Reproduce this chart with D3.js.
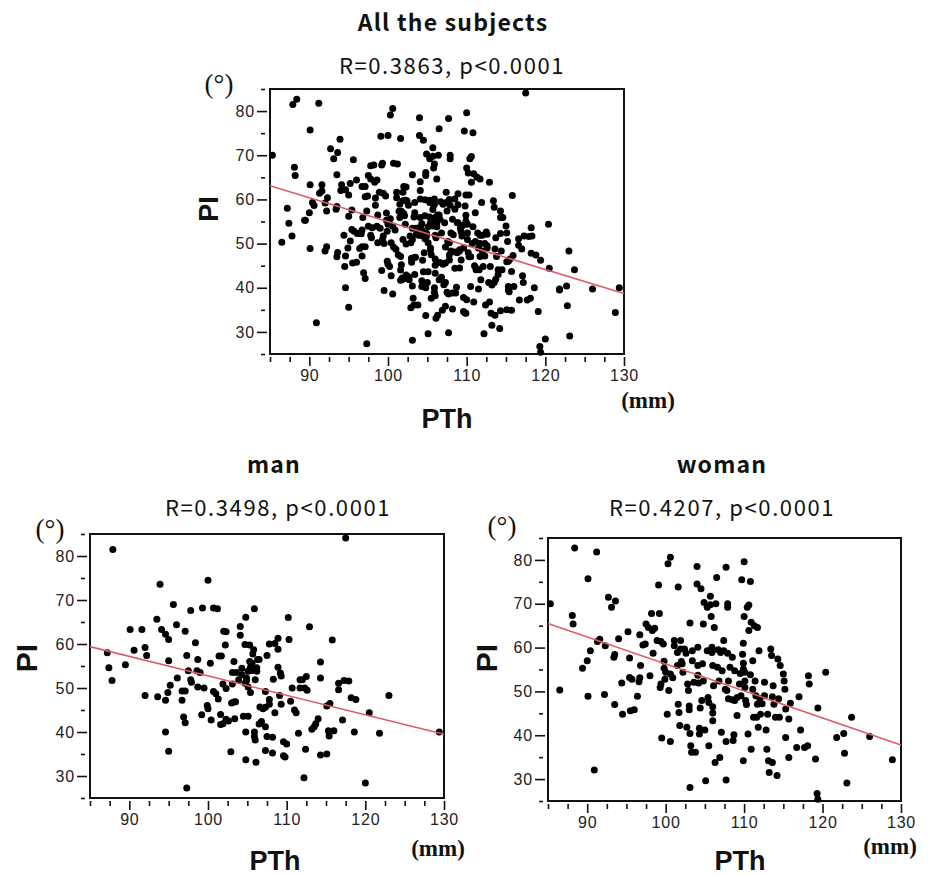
<!DOCTYPE html>
<html><head><meta charset="utf-8">
<script src="https://cdn.jsdelivr.net/npm/d3@7"></script>
<style>body{margin:0;background:#fff}</style>
</head><body>
<svg id="c" width="930" height="877"></svg>
<script>
// ---------- data ----------
const panelTitles = ["All the subjects", "man", "woman"];
const statLabels = ["R=0.3863, p<0.0001", "R=0.3498, p<0.0001", "R=0.4207, p<0.0001"];
const xAxisTitle = "PTh";
const yAxisTitle = "PI";
const xUnit = "(mm)";
const yUnit = "(°)";
const xTickValues = [90, 100, 110, 120, 130];
const xMinorTicks = [85, 87.5, 92.5, 95, 97.5, 102.5, 105, 107.5, 112.5, 115, 117.5, 122.5, 125, 127.5];
const yTickValues = [30, 40, 50, 60, 70, 80];
const yMinorTicks = [25, 35, 45, 55, 65, 75, 85];
const xDomain = [85, 130];
const yDomain = [25, 85];

// [PTh (mm), PI (deg)]
const manPoints = [
[87.9,81.5],[87.2,58.0],[87.4,54.6],[87.8,51.7],[89.5,55.3],[90.6,58.6],[90.1,63.3],[91.6,63.3],[92.0,59.2],[92.2,57.4],
[92.0,48.3],[93.5,65.6],[93.9,73.6],[94.1,63.3],[94.6,62.2],[95.0,61.0],[93.6,48.0],[94.6,47.2],[94.9,49.0],[95.2,50.6],
[95.0,56.2],[94.6,40.0],[95.0,35.6],[95.6,69.0],[96.0,64.4],[96.1,52.3],[97.1,62.9],[96.7,49.3],[97.1,49.3],[96.7,47.2],
[96.9,43.4],[97.1,42.1],[97.3,27.3],[97.8,67.6],[97.3,57.4],[97.5,53.9],[97.8,51.9],[97.9,51.3],[98.4,60.3],[98.7,56.5],
[98.6,53.9],[99.0,53.5],[98.7,50.2],[99.2,43.9],[99.3,68.2],[99.5,50.0],[100.0,74.5],[100.3,55.6],[99.9,46.0],[100.0,45.3],
[100.7,68.2],[101.2,68.0],[100.4,42.7],[100.7,49.2],[101.0,48.7],[101.3,47.5],[101.4,57.3],[101.7,57.3],[101.6,44.0],[101.6,41.7],
[101.9,41.9],[101.9,50.9],[102.0,62.9],[102.3,62.8],[102.2,59.8],[102.3,49.9],[102.3,42.9],[102.6,42.5],[102.9,35.5],[103.0,46.6],
[103.3,46.8],[103.1,50.9],[103.3,56.0],[103.5,46.9],[103.4,43.0],[103.1,53.5],[103.6,53.5],[103.9,51.9],[104.1,64.0],[104.1,62.0],
[104.3,54.5],[104.3,53.0],[104.5,43.6],[104.8,66.1],[104.7,59.9],[104.9,52.3],[104.9,51.7],[104.7,51.1],[104.8,40.0],[104.8,33.7],
[105.1,43.6],[105.1,50.2],[105.3,59.8],[105.3,56.0],[105.1,53.8],[105.4,49.0],[105.4,54.7],[105.7,57.7],[105.6,55.6],[105.7,54.0],
[105.9,68.0],[105.8,58.7],[105.9,40.0],[105.9,39.0],[106.0,38.2],[106.1,33.1],[106.0,51.9],[106.2,53.8],[106.3,56.5],[106.2,54.6],
[106.5,56.5],[106.5,41.8],[106.8,42.4],[106.6,45.7],[107.0,45.3],[107.3,45.6],[107.3,49.2],[107.3,41.2],[107.3,35.8],[107.5,39.0],
[107.5,57.4],[107.8,60.0],[107.8,47.4],[107.8,46.3],[108.2,38.8],[108.2,35.2],[108.3,52.0],[108.5,44.4],[108.5,60.1],[108.9,61.3],
[108.9,58.8],[108.9,54.7],[109.2,53.4],[109.1,48.3],[109.3,52.7],[109.3,46.3],[109.6,37.8],[109.6,34.6],[109.8,34.3],[110.0,37.3],
[110.2,66.0],[110.3,61.0],[110.5,47.0],[110.7,50.0],[111.0,45.0],[111.2,44.4],[111.5,39.7],[111.7,50.0],[111.7,51.9],[112.0,51.9],
[112.3,50.0],[112.4,36.1],[112.2,29.6],[112.5,52.6],[112.6,49.5],[112.9,63.9],[113.2,40.6],[113.5,41.2],[113.7,41.9],[114.0,43.0],
[114.3,55.9],[114.3,52.3],[114.3,34.8],[115.1,35.0],[115.3,40.3],[115.4,39.1],[115.1,45.9],[115.5,46.5],[115.8,60.9],[116.0,40.3],
[116.6,49.6],[116.6,51.1],[117.1,42.7],[117.5,84.1],[117.3,51.7],[117.9,51.6],[118.2,47.8],[118.8,47.4],[118.6,40.0],[120.0,28.4],
[120.5,44.4],[121.8,39.7],[123.0,48.3],[129.4,40.0]
];

const womanPoints = [
[85.3,70.0],[86.5,50.3],[88.1,67.3],[88.2,65.4],[88.4,82.7],[89.4,55.3],[90.0,57.0],[90.1,75.7],[90.1,48.9],[90.4,59.3],
[90.9,32.1],[91.2,81.8],[91.3,61.4],[91.6,61.9],[92.2,49.3],[92.3,60.4],[92.7,71.5],[93.1,69.2],[93.6,70.6],[93.4,57.8],
[93.5,58.4],[93.5,47.0],[94.0,62.0],[94.4,51.9],[94.5,44.8],[95.2,63.6],[95.4,57.6],[95.4,53.2],[95.5,45.6],[95.7,52.8],
[96.0,45.8],[96.4,48.9],[96.6,52.2],[96.7,53.1],[96.8,55.9],[96.7,62.9],[97.1,60.6],[97.4,60.8],[97.5,65.4],[97.8,64.6],
[98.0,53.6],[98.2,67.8],[98.3,63.9],[98.4,58.7],[98.6,64.4],[99.1,74.3],[98.9,61.6],[99.2,67.8],[99.4,61.4],[99.3,50.9],
[99.4,51.7],[99.5,39.4],[99.7,60.8],[99.8,56.9],[99.8,55.3],[100.0,54.4],[99.9,52.8],[100.2,44.8],[100.3,79.1],[100.6,80.6],
[100.4,50.2],[100.6,38.6],[100.6,54.0],[100.9,53.1],[101.1,61.6],[101.1,60.4],[101.5,58.9],[101.6,73.8],[101.5,55.9],[101.6,47.1],
[101.7,45.2],[101.8,42.2],[101.9,61.6],[101.9,59.7],[102.0,56.8],[102.1,56.3],[102.2,54.4],[102.4,59.7],[102.6,58.7],[102.7,41.8],
[102.8,51.7],[102.9,50.2],[103.0,46.7],[103.0,45.8],[103.1,65.6],[103.1,28.1],[103.1,40.4],[103.2,37.6],[103.3,36.1],[103.4,59.3],
[103.4,57.0],[103.6,52.1],[103.8,36.1],[104.0,78.5],[104.0,74.5],[104.1,60.1],[104.1,55.9],[104.1,53.7],[104.2,51.9],[104.3,41.6],
[104.3,40.3],[104.5,73.4],[104.7,56.3],[104.8,65.4],[104.8,52.4],[104.4,46.2],[104.6,47.9],[104.9,70.3],[105.0,41.2],[105.1,29.6],
[105.3,69.2],[105.3,59.3],[105.4,48.6],[105.5,37.6],[105.5,47.5],[105.7,71.7],[105.7,69.8],[105.8,67.1],[105.9,60.1],[105.9,58.9],
[106.0,55.9],[106.0,46.5],[106.0,45.1],[106.0,43.3],[106.1,51.3],[106.2,64.6],[106.3,33.8],[106.4,70.0],[106.5,76.0],[106.6,55.5],
[106.7,59.5],[106.8,52.4],[106.9,34.9],[107.0,58.9],[107.1,40.7],[107.2,54.7],[107.4,59.3],[107.4,61.6],[107.6,50.5],[107.7,78.3],
[107.7,29.8],[107.7,38.6],[107.9,58.7],[107.9,70.0],[107.9,69.2],[107.8,50.2],[108.0,52.4],[108.0,48.3],[108.2,55.5],[108.5,48.1],
[108.5,57.8],[108.6,38.8],[108.7,40.1],[108.8,47.9],[108.8,54.7],[109.1,44.5],[109.1,48.6],[109.4,51.7],[109.5,54.1],[109.6,49.0],
[109.7,75.5],[109.8,58.5],[109.9,61.0],[109.9,56.4],[109.9,55.1],[109.9,34.2],[110.0,79.6],[110.0,67.1],[110.1,54.4],[110.1,52.4],
[110.1,50.9],[110.2,47.9],[110.3,47.0],[110.4,69.2],[110.5,40.3],[110.6,69.7],[110.6,63.9],[110.8,75.1],[110.8,53.8],[110.9,36.8],
[110.9,65.8],[111.1,50.5],[111.1,57.0],[111.2,44.1],[111.3,65.0],[111.4,52.4],[111.5,49.0],[111.6,44.1],[111.7,64.6],[111.7,47.1],
[111.8,41.8],[111.9,59.3],[112.0,48.3],[112.1,44.8],[112.3,47.2],[112.6,52.1],[112.6,49.0],[112.8,41.2],[112.9,36.8],[113.0,44.8],
[113.1,34.2],[113.2,31.5],[113.4,59.7],[113.5,58.2],[113.6,33.8],[113.6,48.8],[113.7,51.3],[113.8,47.1],[114.0,44.1],[114.2,30.8],
[114.3,57.4],[114.4,48.3],[114.5,44.1],[114.6,55.9],[115.0,54.0],[115.1,52.4],[115.2,50.5],[115.3,46.0],[115.3,39.5],[115.7,43.7],
[115.7,34.9],[115.9,47.3],[117.0,48.8],[117.2,41.2],[116.7,37.2],[117.7,37.2],[118.1,37.6],[118.2,53.6],[118.3,51.7],[119.1,34.6],
[119.3,26.7],[119.4,25.4],[119.4,46.2],[120.4,54.4],[121.8,39.5],[122.7,40.4],[122.8,35.9],[123.1,29.1],[123.7,44.1],[126.0,39.7],
[128.9,34.4]
];

const allPoints = manPoints.concat(womanPoints);

// regression lines: [PTh, PI] at both ends
const fitAll = [[85, 63.1], [130, 38.7]];
const fitMan = [[85, 59.4], [130, 39.5]];
const fitWoman = [[85, 65.5], [130, 37.8]];

// ---------- layout ----------
const panels = [
  {pts: allPoints, fit: fitAll, left: 270, top: 89, w: 354, h: 265,
   titleX: 453, titleY: 31, statX: 452, statY: 74, degX: 219, degY: 93,
   piX: 209, piY: 209, pthX: 447, pthY: 428, mmX: 648, mmY: 408, piSize: 27},
  {pts: manPoints, fit: fitMan, left: 90, top: 534, w: 354, h: 264,
   titleX: 274, titleY: 473, statX: 278, statY: 516, degX: 50, degY: 538,
   piX: 26, piY: 658, pthX: 275, pthY: 870, mmX: 438, mmY: 856, piSize: 30},
  {pts: womanPoints, fit: fitWoman, left: 548, top: 538, w: 353, h: 263,
   titleX: 722, titleY: 473, statX: 722, statY: 516, degX: 502, degY: 535,
   piX: 486, piY: 658, pthX: 740, pthY: 870, mmX: 890, mmY: 854, piSize: 30}
];

const svg = d3.select("#c");
const sansJP = "'Noto Sans CJK JP', 'Noto Sans', sans-serif";
const sans = "'Liberation Sans', Arial, sans-serif";
const serif = "'Liberation Serif', 'DejaVu Serif', serif";

panels.forEach((p, i) => {
  const x = d3.scaleLinear().domain(xDomain).range([0, p.w]);
  const y = d3.scaleLinear().domain(yDomain).range([p.h, 0]);
  const g = svg.append("g").attr("transform", `translate(${p.left},${p.top})`);

  // x axis (ticks hang below the frame with a small gap)
  const xMaj = g.append("g").attr("transform", `translate(0,${p.h + 3})`)
    .call(d3.axisBottom(x).tickValues(xTickValues).tickSize(9).tickPadding(4).tickFormat(d3.format("d")));
  const xMin = g.append("g").attr("transform", `translate(0,${p.h + 3})`)
    .call(d3.axisBottom(x).tickValues(xMinorTicks).tickSize(5).tickFormat(""));
  // y axis
  const yMaj = g.append("g").attr("transform", `translate(-3,0)`)
    .call(d3.axisLeft(y).tickValues(yTickValues).tickSize(10).tickPadding(2).tickFormat(d3.format("d")));
  const yMin = g.append("g").attr("transform", `translate(-5,0)`)
    .call(d3.axisLeft(y).tickValues(yMinorTicks).tickSize(4).tickFormat(""));
  [xMaj, xMin, yMaj, yMin].forEach(a => {
    a.select(".domain").remove();
    a.selectAll("line").attr("stroke", "#111").attr("stroke-width", 1.6);
    a.selectAll("text").attr("fill", "#222").style("font-family", sans)
      .style("font-size", "16px").style("letter-spacing", "0.8px");
  });

  // frame
  g.append("rect").attr("width", p.w).attr("height", p.h)
    .attr("fill", "none").attr("stroke", "#111").attr("stroke-width", 2);

  // points
  g.append("g").selectAll("circle").data(p.pts).join("circle")
    .attr("cx", d => x(d[0])).attr("cy", d => y(d[1])).attr("r", 3.5).attr("fill", "#000");

  // regression line
  g.append("path").datum(p.fit)
    .attr("d", d3.line().x(d => x(d[0])).y(d => y(d[1])))
    .attr("stroke", "#e05a68").attr("stroke-width", 1.6).attr("fill", "none");

  // titles
  svg.append("text").attr("x", p.titleX).attr("y", p.titleY).attr("text-anchor", "middle")
    .style("font-family", sansJP).style("font-weight", 700).style("font-size", "23px")
    .style("letter-spacing", "1.2px").attr("fill", "#111")
    .text(panelTitles[i]);
  svg.append("text").attr("x", p.statX).attr("y", p.statY).attr("text-anchor", "middle")
    .style("font-family", sansJP).style("font-size", "22px").style("letter-spacing", "1.6px").attr("fill", "#111")
    .text(statLabels[i]);

  // axis titles
  svg.append("text").attr("transform", `translate(${p.piX},${p.piY}) rotate(-90)`)
    .attr("text-anchor", "middle").attr("dominant-baseline", "central")
    .style("font-family", sans).style("font-weight", 700).style("font-size", p.piSize + "px").attr("fill", "#111")
    .text(yAxisTitle);
  svg.append("text").attr("x", p.pthX).attr("y", p.pthY).attr("text-anchor", "middle")
    .style("font-family", sans).style("font-weight", 700).style("font-size", "27px").attr("fill", "#111")
    .text(xAxisTitle);
  svg.append("text").attr("x", p.degX).attr("y", p.degY).attr("text-anchor", "middle")
    .style("font-family", serif).style("font-size", "27px").attr("fill", "#111")
    .text(yUnit);
  svg.append("text").attr("x", p.mmX).attr("y", p.mmY).attr("text-anchor", "middle")
    .style("font-family", serif).style("font-weight", 700).style("font-size", "23px").attr("fill", "#111")
    .text(xUnit);
});
</script>
</body></html>
